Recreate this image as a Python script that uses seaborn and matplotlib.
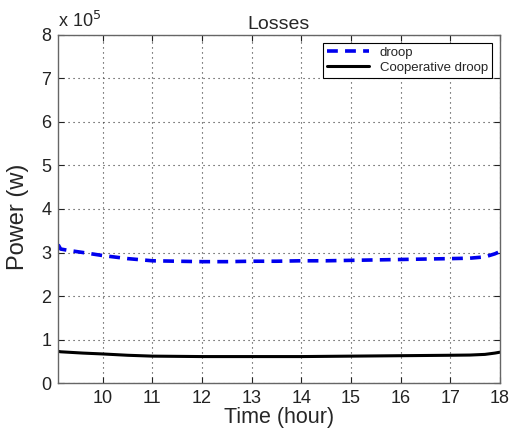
import pandas as pd
import matplotlib
matplotlib.use('Agg')
import matplotlib.pyplot as plt
import seaborn as sns

# values (power in W)
time_h = [9.1, 9.15, 9.3, 9.6, 10.0, 10.5, 11.0, 11.5, 12.0, 12.5, 13.0, 13.5, 14.0,
          14.5, 15.0, 15.5, 16.0, 16.5, 17.0, 17.4, 17.7, 17.9, 18.0]
droop_w = [3.18e5, 3.08e5, 3.05e5, 3.0e5, 2.93e5, 2.86e5, 2.81e5, 2.80e5, 2.79e5, 2.79e5,
           2.80e5, 2.80e5, 2.81e5, 2.81e5, 2.82e5, 2.83e5, 2.84e5, 2.85e5, 2.86e5,
           2.87e5, 2.90e5, 2.97e5, 3.02e5]
coop_w = [0.73e5, 0.72e5, 0.71e5, 0.69e5, 0.67e5, 0.64e5, 0.62e5, 0.615e5, 0.61e5, 0.61e5,
          0.61e5, 0.61e5, 0.61e5, 0.615e5, 0.62e5, 0.625e5, 0.63e5, 0.635e5, 0.64e5,
          0.645e5, 0.66e5, 0.69e5, 0.71e5]
x_ticks = [10, 11, 12, 13, 14, 15, 16, 17, 18]
y_ticks = [0, 1, 2, 3, 4, 5, 6, 7, 8]

df = pd.DataFrame({'time': time_h, 'droop': droop_w, 'coop': coop_w})
df['droop'] = df['droop'] / 1e5
df['coop'] = df['coop'] / 1e5

sns.set_style('white')
plt.rcParams['font.family'] = ['Liberation Sans', 'DejaVu Sans']

fig = plt.figure(figsize=(5.1, 4.3), dpi=100)
ax = fig.add_axes([0.114, 0.109, 0.866, 0.81])

sns.lineplot(data=df, x='time', y='droop', ax=ax, color='#0000ee', linewidth=2.6,
             linestyle=(0, (3, 2)), label='droop')
sns.lineplot(data=df, x='time', y='coop', ax=ax, color='black', linewidth=2.2,
             label='Cooperative droop')

ax.set_xlim(9.1, 18)
ax.set_ylim(0, 8)
ax.set_xticks(x_ticks)
ax.set_yticks(y_ticks)
ax.tick_params(direction='in', length=4, labelsize=13, colors='#222222', pad=5,
               top=True, right=True, bottom=True, left=True)
ax.grid(True, linestyle=(0, (1, 3.5)), color='#333333', linewidth=0.8)
for s in ax.spines.values():
    s.set_color('#666666')
    s.set_linewidth(1.0)

ax.set_title('Losses', fontsize=14, pad=4)
ax.set_xlabel('Time (hour)', fontsize=15.5, labelpad=0)
ax.set_ylabel('Power (w)', fontsize=17)
ax.yaxis.set_label_coords(-0.066, 0.477)
ax.text(0.0, 1.01, r'x 10$^5$', transform=ax.transAxes, fontsize=13, ha='left', va='bottom')

leg = ax.legend(loc='upper right', fontsize=9.5, fancybox=False, framealpha=1,
                edgecolor='black', borderpad=0.3, labelspacing=0.2, handlelength=3.2,
                borderaxespad=0.6)
leg.get_frame().set_linewidth(0.8)

fig.savefig('out.png', dpi=100)
